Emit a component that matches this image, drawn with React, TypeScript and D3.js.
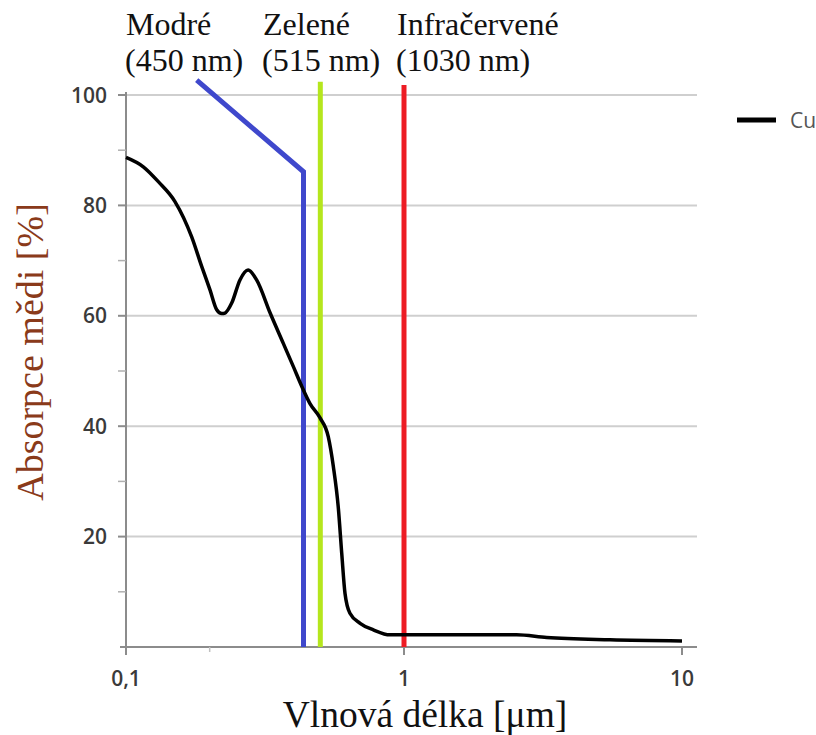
import React from "react";
import * as d3 from "d3";

// Cu absorption curve
const wavelength = [0.1, 0.1154, 0.1307, 0.15, 0.1723, 0.1873, 0.2005, 0.212, 0.221, 0.227, 0.24, 0.257, 0.275, 0.295, 0.33, 0.368, 0.4, 0.429, 0.459, 0.499, 0.534, 0.557, 0.58, 0.597, 0.6135, 0.639, 0.695, 0.776, 0.891, 1.0, 1.6, 2.54, 3.26, 5.51, 10];
const absorption = [88.7, 87.0, 84.3, 80.7, 74.3, 68.9, 64.7, 61.1, 60.4, 60.5, 62.3, 66.5, 68.3, 66.5, 60.5, 55.0, 50.8, 47.2, 44.1, 41.5, 38.1, 32.7, 25.4, 17.0, 9.7, 6.1, 4.3, 3.1, 2.2, 2.2, 2.2, 2.2, 1.7, 1.3, 1.1];

// laser wavelength markers
const markerNames = ["Modré", "Zelené", "Infračervené"];
const markerLabels = ["(450 nm)", "(515 nm)", "(1030 nm)"];
const markerX = [0.435, 0.5, 1.0];
const markerTop = [86.1, 102.4, 101.8];
const markerColors = ["#3f48cc", "#b5e61d", "#ed1c24"];
const blueStart = [0.1796, 102.7];

const yTicks = [20, 40, 60, 80, 100];
const yMinor = [10, 30, 50, 70, 90];
const xTicks = [0.1, 1, 10];
const xTickLabels = ["0,1", "1", "10"];
const xMinor = [0.2];

const W = 816;
const H = 735;
const plotRight = 697;
const labelX = [126, 263, 397];
const serif = "'Liberation Serif', 'Times New Roman', serif";
const sans = "'Open Sans', 'Noto Sans', sans-serif";

export default function App() {
  const x = d3.scaleLog().domain([0.1, 10]).range([126, 682]);
  const y = d3.scaleLinear().domain([0, 100]).range([647, 95]);

  const pts = wavelength.map((w, i) => [w, absorption[i]] as [number, number]);
  const line = d3
    .line<[number, number]>()
    .x((d) => x(d[0]))
    .y((d) => y(d[1]))
    .curve(d3.curveMonotoneX);

  const x0 = x(0.1);

  return (
    <svg
      width={W}
      height={H}
      style={{ position: "absolute", left: 0, top: 0, background: "#fff" }}
    >
      {/* gridlines */}
      {yTicks.map((t) => (
        <line key={"g" + t} x1={x0} x2={plotRight} y1={y(t)} y2={y(t)} stroke="#cfcfcf" strokeWidth={2} />
      ))}
      {/* y axis */}
      <line x1={x0} x2={x0} y1={y(100) - 3} y2={y(0) + 8} stroke="#8c8c8c" strokeWidth={2} />
      {yTicks.map((t) => (
        <line key={"yt" + t} x1={x0 - 8} x2={x0} y1={y(t)} y2={y(t)} stroke="#8c8c8c" strokeWidth={2} />
      ))}
      {yMinor.map((t) => (
        <line key={"ym" + t} x1={x0 - 8} x2={x0} y1={y(t)} y2={y(t)} stroke="#b0b0b0" strokeWidth={1.5} />
      ))}
      {yTicks.map((t) => (
        <text key={"yl" + t} x={107} y={y(t)} dy="0.36em" textAnchor="end" fontFamily={sans} fontWeight={600} fontSize={21} fill="#3a3a3a">
          {t}
        </text>
      ))}
      {/* x axis */}
      <line x1={x0 - 6} x2={plotRight} y1={y(0)} y2={y(0)} stroke="#8c8c8c" strokeWidth={2} />
      {xTicks.map((t) => (
        <line key={"xt" + t} x1={x(t)} x2={x(t)} y1={y(0)} y2={y(0) + 8} stroke="#8c8c8c" strokeWidth={2} />
      ))}
      {xMinor.map((t) => (
        <line key={"xm" + t} x1={x(t)} x2={x(t)} y1={y(0)} y2={y(0) + 5} stroke="#c0c0c0" strokeWidth={1.5} />
      ))}
      {xTicks.map((t, i) => (
        <text key={"xl" + t} x={x(t)} y={686} textAnchor="middle" fontFamily={sans} fontWeight={600} fontSize={21} fill="#3a3a3a">
          {xTickLabels[i]}
        </text>
      ))}

      {/* wavelength markers */}
      <polyline
        points={[
          [x(blueStart[0]), y(blueStart[1])],
          [x(markerX[0]), y(markerTop[0])],
          [x(markerX[0]), y(0)],
        ]
          .map((p) => p.join(","))
          .join(" ")}
        fill="none"
        stroke={markerColors[0]}
        strokeWidth={5}
      />
      {markerX.slice(1).map((m, i) => (
        <line key={"m" + m} x1={x(m)} x2={x(m)} y1={y(markerTop[i + 1])} y2={y(0)} stroke={markerColors[i + 1]} strokeWidth={5} />
      ))}

      {/* curve */}
      <path d={line(pts) || ""} fill="none" stroke="#000" strokeWidth={3.5} strokeLinejoin="round" />

      {/* marker labels */}
      {markerNames.map((n, i) => (
        <text key={n} x={labelX[i]} fontFamily={serif} fontSize={32} fill="#111">
          <tspan x={labelX[i]} y={35}>{n}</tspan>
          <tspan x={labelX[i] - 1} y={71}>{markerLabels[i]}</tspan>
        </text>
      ))}

      {/* legend */}
      <line x1={737} x2={776} y1={120} y2={120} stroke="#000" strokeWidth={5} />
      <text x={790} y={120} dy="0.36em" fontFamily={sans} fontSize={21} fill="#555">
        Cu
      </text>

      {/* axis titles */}
      <text transform="translate(43,352) rotate(-90)" textAnchor="middle" fontFamily={serif} fontSize={38} fill="#8a3a1a">
        Absorpce mědi [%]
      </text>
      <text x={425} y={727} textAnchor="middle" fontFamily={serif} fontSize={37.5} fill="#111">
        Vlnová délka [μm]
      </text>
    </svg>
  );
}
